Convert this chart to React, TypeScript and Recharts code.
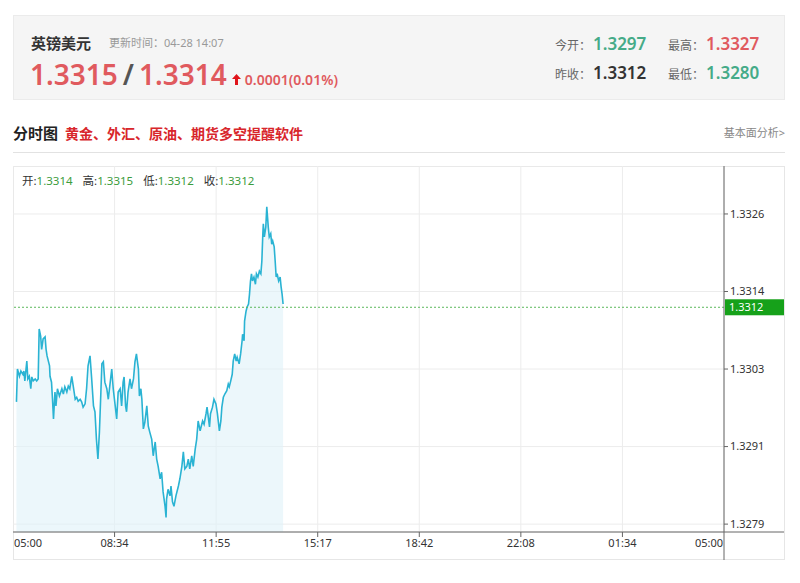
import { ComposedChart, Area, XAxis, YAxis, CartesianGrid, ReferenceLine } from 'recharts';

// 英镑美元 intraday, minutes counted from 05:00
const timeLabels = ['05:00', '08:34', '11:55', '15:17', '18:42', '22:08', '01:34', '05:00'];
const sessionMinutes = 1440;
const priceTicks = [1.3279, 1.32908, 1.33026, 1.33144, 1.33262];
const prevClose = 1.3312;

const minutes = [
    7, 9, 13, 16, 20, 22, 24, 28, 30, 33,
    36, 38, 41, 45, 48, 51, 53, 56, 58, 61,
    65, 67, 69, 74, 75, 78, 80, 82, 85, 87,
    90, 94, 99, 102, 105, 109, 112, 115, 119, 122,
    126, 129, 132, 136, 139, 142, 146, 149, 152, 156,
    159, 163, 166, 169, 172, 175, 178, 180, 183, 186,
    190, 193, 196, 200, 203, 207, 210, 213, 217, 220,
    223, 225, 228, 230, 233, 237, 240, 244, 247, 250,
    254, 256, 259, 261, 264, 267, 271, 274, 277, 281,
    284, 288, 291, 294, 298, 301, 304, 308, 310, 311,
    314, 318, 320, 323, 326, 330, 335, 338, 342, 345,
    348, 352, 355, 358, 362, 365, 369, 372, 375, 379,
    384, 387, 391, 393, 398, 400, 404, 407, 411, 414,
    418, 421, 423, 426, 429, 433, 436, 438, 441, 444,
    446, 449, 452, 454, 458, 461, 464, 465, 468, 469,
    472, 474, 477, 479, 481, 483, 485, 488, 491, 493,
    496, 499, 502, 504, 506, 507, 509, 512, 514, 517,
    519, 522, 524, 526, 529, 531, 533, 535, 538, 541,
    543, 545, 547,
];

const prices = [
    1.32976, 1.33026, 1.33015, 1.33023, 1.33018, 1.33023, 1.33008, 1.33038, 1.33011, 1.33015,
    1.32996, 1.33014, 1.33008, 1.33011, 1.33008, 1.33011, 1.33087, 1.33076, 1.33056, 1.33072,
    1.33075, 1.33056, 1.33046, 1.33031, 1.33015, 1.33006, 1.3298, 1.3295, 1.32991, 1.3297,
    1.32996, 1.32985, 1.32996, 1.32988, 1.32999, 1.32991, 1.33, 1.32996, 1.33015, 1.33,
    1.3298, 1.32983, 1.32977, 1.3298, 1.32976, 1.32968, 1.32973, 1.32996, 1.33031, 1.33046,
    1.33015, 1.3297, 1.32961, 1.32919, 1.32889, 1.3293, 1.32991, 1.33034, 1.33037, 1.33006,
    1.32996, 1.3298, 1.33, 1.33026, 1.32996, 1.3297, 1.3295, 1.32991, 1.32996, 1.3297,
    1.33006, 1.33014, 1.3297, 1.32961, 1.32991, 1.33011, 1.32996, 1.33011, 1.33037, 1.33049,
    1.33026, 1.32985, 1.32996, 1.3298, 1.32935, 1.32945, 1.3297, 1.32939, 1.3293, 1.32919,
    1.32894, 1.32915, 1.32889, 1.32878, 1.32859, 1.32869, 1.32839, 1.32817, 1.328, 1.32828,
    1.32843, 1.32833, 1.32848, 1.32824, 1.32817, 1.32833, 1.32848, 1.32859, 1.32878, 1.329,
    1.32874, 1.32878, 1.32889, 1.32874, 1.32894, 1.32878, 1.32904, 1.32919, 1.32947, 1.32932,
    1.32947, 1.32942, 1.32958, 1.32968, 1.32938, 1.32958, 1.32968, 1.3298, 1.32973, 1.32958,
    1.32932, 1.32947, 1.32968, 1.32983, 1.32988, 1.32993, 1.33003, 1.32999, 1.33008, 1.33018,
    1.33038, 1.33049, 1.33038, 1.33044, 1.33034, 1.33049, 1.33069, 1.33079, 1.33069, 1.33099,
    1.33114, 1.3312, 1.33125, 1.3314, 1.3316, 1.33171, 1.3316, 1.33166, 1.33155, 1.33171,
    1.33166, 1.33175, 1.33171, 1.3319, 1.33232, 1.33247, 1.33227, 1.33242, 1.33273, 1.33242,
    1.33227, 1.33232, 1.33216, 1.33221, 1.33212, 1.3319, 1.33166, 1.33171, 1.3316, 1.33166,
    1.33151, 1.3314, 1.33125,
];

const data = minutes.map((t, i) => ({ t, price: prices[i] }));
const xTicks = timeLabels.map((_, i) => (i * sessionMinutes) / (timeLabels.length - 1));

const FONT = "'Noto Sans', 'Noto Sans CJK SC', sans-serif";
const RED = '#e05a5e';
const TEAL = '#45ab88';
const GREEN = '#3c9c3c';

function TimeTick(props: any) {
    const { x, y, index } = props;
    const first = index === 0;
    const last = index === timeLabels.length - 1;
    return (
        <g>
            {!first && <line x1={x} x2={x} y1={y} y2={y + (last ? 28 : 5)} stroke="#666" />}
            {last && <line x1={x} x2={x + 60} y1={y} y2={y} stroke="#666" />}
            <text
                x={first ? x + 1 : last ? x - 1 : x}
                y={y + 15}
                textAnchor={first ? 'start' : last ? 'end' : 'middle'}
                fontSize={11}
                fill="#333"
            >
                {timeLabels[index]}
            </text>
        </g>
    );
}

function PrevCloseTag(props: any) {
    const { x, y, width } = props.viewBox;
    return (
        <g>
            <rect x={x + width + 1} y={y - 8} width={59} height={16} fill="#16a11a" />
            <text x={x + width + 5} y={y + 4} fontSize={11} fill="#fff">
                {prevClose.toFixed(4)}
            </text>
        </g>
    );
}

function Stat({ left, top, label, value, color }: { left: number; top: number; label: string; value: string; color: string }) {
    return (
        <div style={{ position: 'absolute', left, top, display: 'flex', alignItems: 'baseline', whiteSpace: 'nowrap' }}>
            <span style={{ fontSize: 12, color: '#666', width: 38 }}>{label}</span>
            <span style={{ fontSize: 17, fontWeight: 600, color }}>{value}</span>
        </div>
    );
}

export default function App() {
    return (
        <div style={{ position: 'absolute', left: 0, top: 0, width: 800, height: 583, background: '#fff', fontFamily: FONT }}>
            {/* quote header */}
            <div style={{ position: 'absolute', left: 13, top: 15, width: 772, height: 85, boxSizing: 'border-box', background: '#f5f5f5', border: '1px solid #ebebeb' }} />
            <div style={{ position: 'absolute', left: 31, top: 32, fontSize: 15, fontWeight: 700, color: '#333', lineHeight: '22px' }}>英镑美元</div>
            <div style={{ position: 'absolute', left: 109, top: 35, fontSize: 11, color: '#999', lineHeight: '16px' }}>更新时间：04-28 14:07</div>
            <div style={{ position: 'absolute', left: 30, top: 54, display: 'flex', alignItems: 'baseline', whiteSpace: 'nowrap', lineHeight: '40px' }}>
                <span style={{ fontSize: 28, fontWeight: 600, color: RED }}>1.3315</span>
                <span style={{ fontSize: 28, fontWeight: 600, color: '#555', margin: '0 5px' }}>/</span>
                <span style={{ fontSize: 28, fontWeight: 600, color: RED }}>1.3314</span>
                <svg width={9} height={11} style={{ margin: '0 4px 0 5px' }}>
                    <path d="M4.5 0 L9 5 L6 5 L6 11 L3 11 L3 5 L0 5 Z" fill="#e0141a" />
                </svg>
                <span style={{ fontSize: 14, fontWeight: 600, color: RED }}>0.0001(0.01%)</span>
            </div>
            <Stat left={555} top={32} label="今开：" value="1.3297" color={TEAL} />
            <Stat left={668} top={32} label="最高：" value="1.3327" color={RED} />
            <Stat left={555} top={61} label="昨收：" value="1.3312" color="#333" />
            <Stat left={668} top={61} label="最低：" value="1.3280" color={TEAL} />

            {/* section title */}
            <div style={{ position: 'absolute', left: 13, top: 122, display: 'flex', alignItems: 'baseline', whiteSpace: 'nowrap', lineHeight: '22px' }}>
                <span style={{ fontSize: 15, fontWeight: 700, color: '#222' }}>分时图</span>
                <span style={{ fontSize: 14, fontWeight: 700, color: '#d8262b', marginLeft: 7 }}>黄金、外汇、原油、期货多空提醒软件</span>
            </div>
            <div style={{ position: 'absolute', right: 15, top: 125, fontSize: 11, color: '#888', lineHeight: '16px' }}>基本面分析&gt;</div>
            <div style={{ position: 'absolute', left: 13, top: 152, width: 772, height: 1, background: '#e2e2e2' }} />

            {/* chart box */}
            <div style={{ position: 'absolute', left: 13, top: 166, width: 772, height: 394, boxSizing: 'border-box', border: '1px solid #e6e6e6' }} />
            <div style={{ position: 'absolute', left: 13, top: 166 }}>
                <ComposedChart width={771} height={394} data={data} margin={{ top: 0, right: 0, bottom: 0, left: 0 }}>
                    <CartesianGrid stroke="#ececec" />
                    <XAxis
                        dataKey="t"
                        type="number"
                        domain={[0, sessionMinutes]}
                        ticks={xTicks}
                        interval={0}
                        allowDataOverflow
                        height={28}
                        tick={<TimeTick />}
                        tickLine={false}
                        tickSize={0}
                        tickMargin={0}
                        axisLine={{ stroke: '#666' }}
                    />
                    <YAxis
                        orientation="right"
                        type="number"
                        domain={[1.32778, 1.33335]}
                        ticks={priceTicks}
                        interval={0}
                        allowDataOverflow
                        width={60}
                        tickFormatter={(v: number) => v.toFixed(4)}
                        tick={{ fontSize: 11, fill: '#333' }}
                        tickSize={4}
                        tickMargin={2}
                        tickLine={{ stroke: '#666' }}
                        axisLine={{ stroke: '#666' }}
                    />
                    <Area
                        type="linear"
                        dataKey="price"
                        stroke="#2ab3d3"
                        strokeWidth={1.6}
                        fill="#dff2f9"
                        fillOpacity={0.6}
                        dot={false}
                        activeDot={false}
                        isAnimationActive={false}
                    />
                    <ReferenceLine y={prevClose} stroke="#5cb85c" strokeDasharray="2 2" label={<PrevCloseTag />} />
                </ComposedChart>
            </div>
            <div style={{ position: 'absolute', left: 22, top: 173, fontSize: 11.5, lineHeight: '16px', color: '#333', whiteSpace: 'nowrap' }}>
                开:<span style={{ color: GREEN, marginRight: 10 }}>1.3314</span>
                高:<span style={{ color: GREEN, marginRight: 10 }}>1.3315</span>
                低:<span style={{ color: GREEN, marginRight: 10 }}>1.3312</span>
                收:<span style={{ color: GREEN }}>1.3312</span>
            </div>
        </div>
    );
}
